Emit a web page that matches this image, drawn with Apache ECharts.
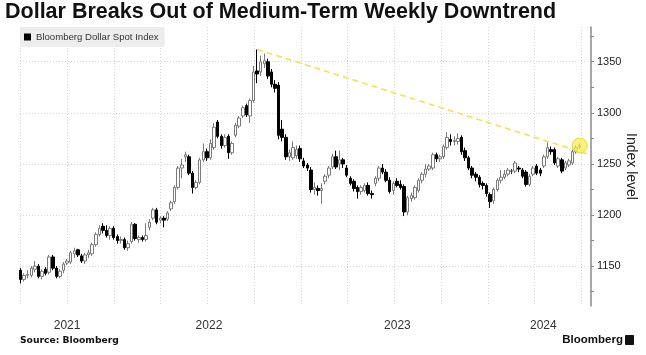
<!DOCTYPE html>
<html>
<head>
<meta charset="utf-8">
<script src="https://cdn.jsdelivr.net/npm/echarts@6/dist/echarts.min.js"></script>
<style>
html,body{margin:0;padding:0;background:#fff;}
#c{width:646px;height:355px;}
</style>
</head>
<body>
<div id="c"></div>
<script>
// ---- data (weekly candles, first week ending 2021-07-02) ----
const firstWeek = '2021-07-02';
const seriesName = 'Bloomberg Dollar Spot Index';
const openVals = [1146,1137,1141,1141,1147,1150,1140,1147,1144,1159,1148,1140,1146,1153,1154,1162,1166,1160,1155,1161,1162,1171,1181,1189,1185,1180,1187,1179,1175,1176,1168,1174,1191,1176,1178,1176,1188,1197,1205,1195,1197,1196,1206,1213,1227,1246,1257,1257,1241,1227,1232,1254,1262,1256,1266,1291,1277,1268,1277,1261,1278,1287,1297,1307,1297,1312,1341,1340,1348,1350,1340,1328,1327,1284,1276,1257,1256,1258,1265,1253,1249,1244,1225,1226,1224,1233,1239,1247,1257,1250,1254,1246,1236,1233,1227,1223,1224,1229,1221,1231,1236,1246,1242,1234,1224,1233,1230,1228,1203,1216,1217,1224,1234,1240,1245,1246,1259,1255,1257,1266,1274,1272,1272,1276,1263,1256,1246,1240,1237,1231,1229,1220,1214,1225,1234,1237,1240,1243,1243,1246,1244,1242,1230,1240,1248,1244,1248,1257,1264,1264,1248,1254,1246,1249,1251,1262,1267];
const closeVals = [1137,1141,1142,1148,1150,1140,1145,1143,1159,1148,1140,1145,1152,1155,1163,1165,1161,1155,1161,1163,1171,1181,1187,1185,1180,1187,1178,1175,1176,1168,1172,1191,1177,1178,1176,1180,1193,1205,1193,1197,1195,1202,1212,1227,1246,1249,1259,1241,1227,1232,1254,1262,1256,1270,1286,1277,1268,1276,1261,1270,1288,1295,1305,1298,1312,1340,1338,1350,1351,1336,1328,1324,1278,1276,1257,1261,1266,1264,1255,1248,1246,1225,1227,1224,1226,1238,1246,1257,1247,1254,1250,1239,1231,1226,1223,1227,1229,1221,1220,1236,1246,1242,1234,1223,1231,1229,1227,1203,1217,1219,1227,1234,1240,1245,1248,1259,1255,1257,1267,1276,1272,1273,1275,1262,1256,1246,1239,1237,1230,1229,1221,1213,1225,1234,1237,1240,1244,1243,1251,1245,1238,1230,1238,1246,1241,1241,1257,1266,1262,1251,1255,1243,1251,1253,1262,1266,1268];
const lowVals = [1133,1135,1138,1139,1144,1138,1137,1141,1142,1146,1138,1138,1143,1151,1152,1158,1159,1153,1152,1158,1160,1169,1179,1182,1178,1176,1176,1172,1172,1166,1165,1172,1175,1173,1174,1174,1185,1195,1191,1192,1188,1194,1204,1211,1225,1236,1252,1239,1221,1225,1230,1252,1253,1254,1264,1275,1265,1266,1255,1259,1276,1285,1295,1296,1290,1310,1329,1336,1344,1333,1325,1320,1274,1272,1254,1253,1254,1255,1252,1246,1243,1222,1220,1219,1211,1230,1236,1245,1245,1244,1246,1237,1229,1223,1216,1220,1222,1219,1216,1228,1233,1240,1232,1221,1220,1227,1225,1199,1200,1213,1215,1222,1231,1237,1243,1244,1252,1252,1255,1264,1268,1268,1269,1259,1253,1244,1236,1233,1227,1225,1218,1207,1211,1223,1231,1235,1238,1240,1241,1242,1236,1228,1228,1238,1239,1238,1246,1255,1259,1249,1246,1241,1244,1247,1249,1260,1265];
const highVals = [1148,1143,1146,1150,1155,1152,1147,1149,1161,1161,1150,1147,1154,1157,1165,1168,1167,1162,1163,1166,1173,1183,1190,1192,1190,1189,1189,1181,1179,1178,1175,1193,1192,1180,1180,1192,1196,1207,1207,1199,1199,1204,1214,1229,1248,1255,1262,1259,1243,1234,1256,1270,1265,1274,1290,1293,1279,1279,1279,1272,1290,1297,1307,1309,1314,1346,1362,1356,1358,1353,1343,1332,1330,1293,1279,1264,1272,1268,1268,1256,1251,1247,1232,1229,1231,1240,1248,1260,1263,1263,1256,1249,1238,1235,1229,1229,1231,1232,1224,1238,1248,1250,1245,1237,1233,1236,1234,1230,1219,1222,1229,1236,1242,1250,1250,1261,1261,1259,1269,1281,1279,1277,1280,1278,1266,1258,1248,1242,1239,1233,1231,1222,1227,1236,1244,1244,1246,1245,1253,1248,1246,1244,1240,1248,1250,1246,1259,1271,1267,1266,1257,1256,1253,1255,1264,1268,1270];
// trendline (from the 2022 high to the right edge)
const trendStart = ['2022-10-07', 1362];
const trendEnd = ['2024-07-18', 1259];
const highlightPoint = ['2024-06-28', 1268];
// axes
const xMin = '2021-07-01';
const xMax = '2024-07-20';
const quarterTicks = ['2021-07-01','2021-10-01','2022-01-01','2022-04-01','2022-07-01','2022-10-01','2023-01-01','2023-04-01','2023-07-01','2023-10-01','2024-01-01','2024-04-01','2024-07-01'];
const yearLabelPos = ['2021-10-01','2022-07-05','2023-07-08','2024-04-18'];
const yMin = 1111, yMax = 1384;
const yLabels = [1150,1200,1250,1300,1350];
const yTicks = [1125,1150,1175,1200,1225,1250,1275,1300,1325,1350,1375];

// ---- build ----
const toTs = s => Date.parse(s + 'T00:00:00Z');
const fmtYear = v => String(new Date(v).getUTCFullYear());
const t0 = toTs(firstWeek);
const candles = openVals.map((o,i)=>[t0 + i*7*86400000, o, closeVals[i], lowVals[i], highVals[i]]);

const chart = echarts.init(document.getElementById('c'), null, {renderer:'canvas'});
const font = 'Liberation Sans';
chart.setOption({
  animation:false,
  backgroundColor:'#fff',
  title:{
    text:'Dollar Breaks Out of Medium-Term Weekly Downtrend',
    left:5, top:1, padding:0,
    textStyle:{fontFamily:font, fontSize:21.5, fontWeight:'bold', color:'#111'}
  },
  legend:{
    data:[{name:seriesName, icon:'rect', itemStyle:{color:'#000', borderWidth:0}}],
    left:20, top:27, padding:[5,6,5,4],
    itemWidth:7, itemHeight:7,
    backgroundColor:'#ededed',
    selectedMode:false,
    textStyle:{fontFamily:font, fontSize:9.6, color:'#333'}
  },
  grid:{left:20, right:55, top:27, bottom:49, containLabel:false, outerBoundsMode:'none'},
  xAxis:{
    type:'value', min:toTs(xMin), max:toTs(xMax),
    axisLine:{show:false},
    axisTick:{show:false, customValues:quarterTicks.map(toTs)},
    splitLine:{show:true, lineStyle:{color:'#d8d8d8', type:[1,2], width:1}},
    axisLabel:{customValues:yearLabelPos.map(toTs), formatter:fmtYear,
      fontFamily:font, fontSize:12, color:'#333', margin:14}
  },
  yAxis:[{
    type:'value', position:'right', min:yMin, max:yMax,
    axisLine:{show:true, lineStyle:{color:'#8a8a8a', width:1.5}},
    axisTick:{show:true, length:3, customValues:yTicks, lineStyle:{color:'#8a8a8a'}},
    axisLabel:{customValues:yLabels, formatter:v=>String(v), fontFamily:font, fontSize:11, color:'#222', margin:6},
    splitLine:{show:false},
    name:'Index level', nameLocation:'middle', nameRotate:-90, nameGap:33, nameMoveOverlap:false,
    nameTextStyle:{fontFamily:font, fontSize:14, color:'#222'}
  },{
    type:'value', position:'right', min:yMin, max:yMax,
    axisLine:{show:false}, axisLabel:{show:false},
    axisTick:{show:false, customValues:yLabels},
    splitLine:{show:true, lineStyle:{color:'#d8d8d8', type:[1,2], width:1}}
  }],
  series:[{
    name:seriesName, type:'candlestick', yAxisIndex:0,
    data:candles,
    barWidth:3,
    itemStyle:{color:'#ffffff', color0:'#000000', borderColor:'#7a7a7a', borderColor0:'#000000', borderColorDoji:'#333333', borderWidth:1},
    markLine:{
      silent:true, symbol:['none','none'],
      lineStyle:{color:'#efe35a', type:[6,4], width:1.6},
      label:{show:false},
      data:[[{coord:[toTs(trendStart[0]), trendStart[1]]},{coord:[toTs(trendEnd[0]), trendEnd[1]]}]]
    },
    markPoint:{
      silent:true,
      symbol:'circle', symbolSize:15,
      itemStyle:{color:'rgba(246,238,70,0.7)', borderColor:'#e3d63a', borderWidth:1},
      label:{show:false},
      data:[{coord:[toTs(highlightPoint[0]), highlightPoint[1]]}]
    }
  }],
  graphic:[
    {type:'text', left:20, top:336, style:{text:'Source: Bloomberg', font:'bold 9.2px "DejaVu Sans"', fill:'#111'}},
    {type:'text', right:23, top:334, style:{text:'Bloomberg', font:'bold 11.5px "Liberation Sans"', fill:'#111'}},
    {type:'rect', right:12, top:335, shape:{width:9, height:10, r:1}, style:{fill:'#111'}}
  ]
});
</script>
</body>
</html>
